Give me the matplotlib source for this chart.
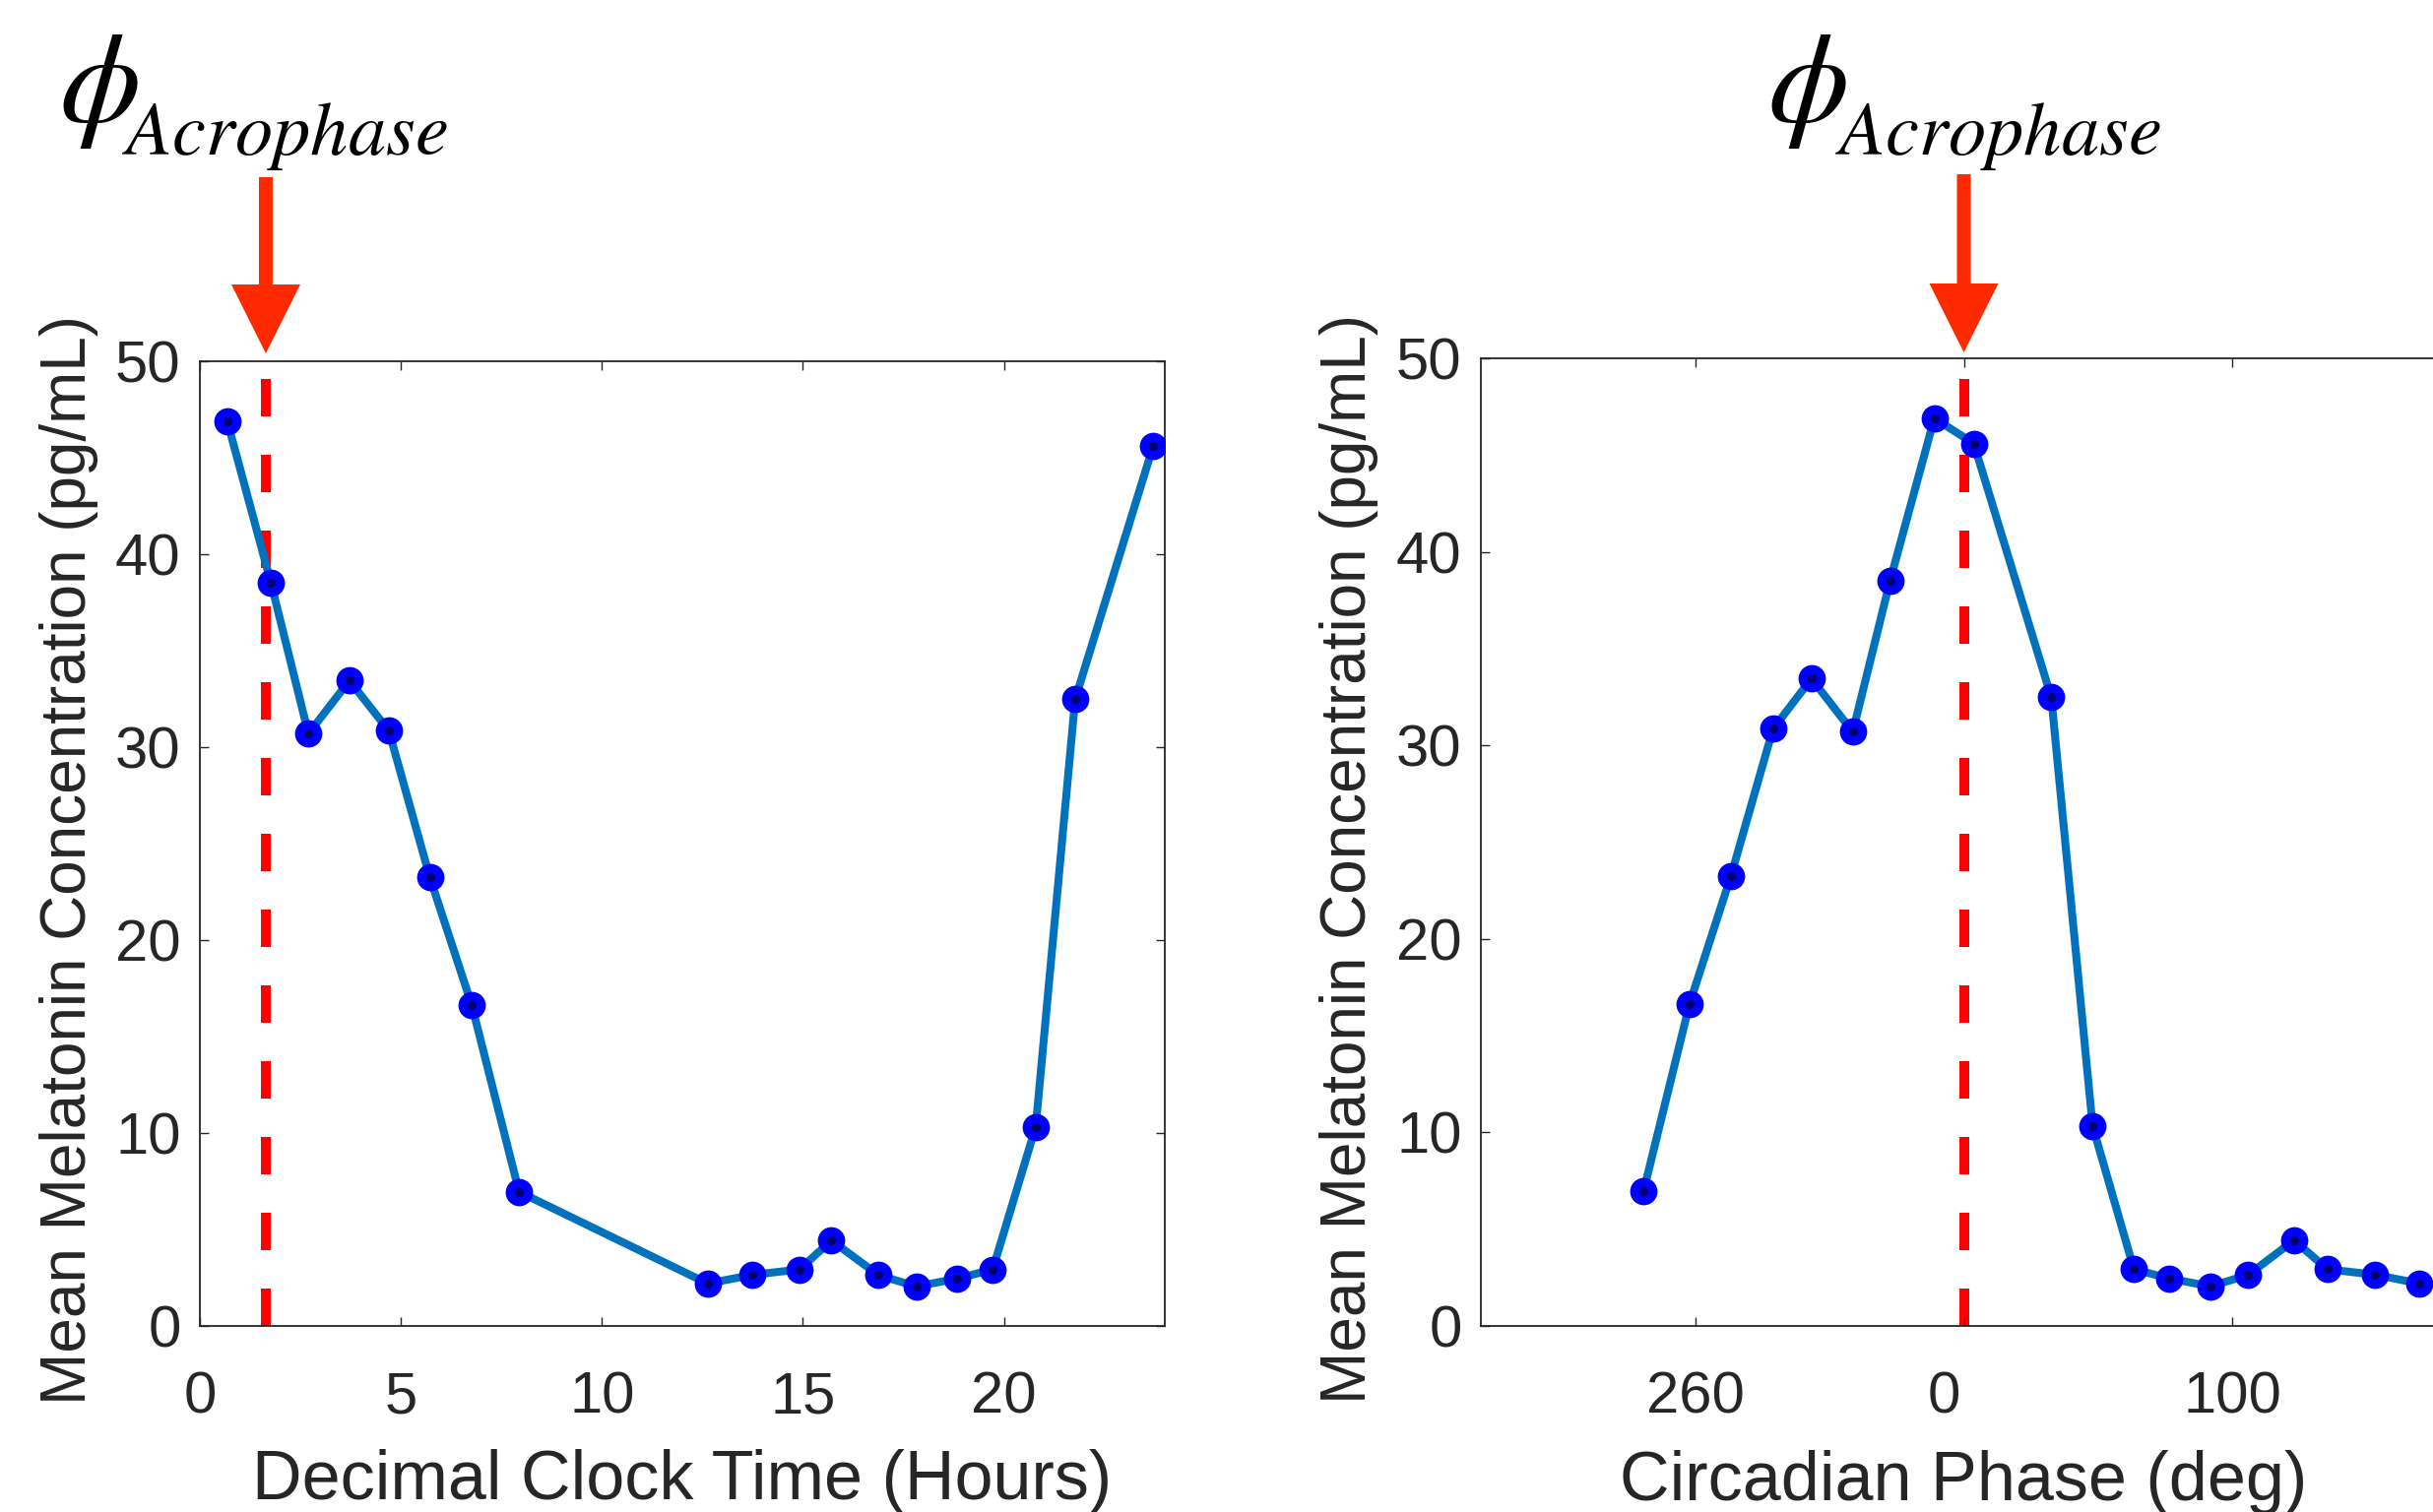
import matplotlib
matplotlib.use('Agg')
import matplotlib.pyplot as plt
from matplotlib.patches import FancyArrow
from matplotlib.transforms import ScaledTranslation

# Số liệu
clock_hours = [0.68, 1.77, 2.70, 3.72, 4.70, 5.72, 6.76, 7.94, 12.63, 13.75,
               14.91, 15.71, 16.88, 17.82, 18.83, 19.72, 20.79, 21.77, 23.71]
melatonin = [46.9, 38.5, 30.7, 33.45, 30.85, 23.25, 16.65, 6.95, 2.2, 2.65,
             2.93, 4.43, 2.63, 2.05, 2.45, 2.93, 10.33, 32.48, 45.6]
phase_deg = [-11.0, -27.5, -41.4, -56.8, -71.1, -86.8, -102.2, -119.4, 169.6, 153.1,
             135.5, 123.1, 105.9, 91.9, 76.6, 63.4, 48.0, 32.6, 3.7]
acrophase_hour = 1.64
acrophase_deg = 0.0

clock_ticks = [0, 5, 10, 15, 20]
phase_ticks = [-100, 0, 100]
phase_tick_labels = ['260', '0', '100']
conc_ticks = [0, 10, 20, 30, 40, 50]

W, H = 2471, 1536
DARK = '#262626'
LINE_BLUE = '#0072BD'
ARROW_RED = '#FF2A00'

plt.rcParams['font.family'] = ['Liberation Sans', 'DejaVu Sans']
plt.rcParams['mathtext.fontset'] = 'stix'


def px_rect(l, t, r, b):
    return [l / W, 1 - b / H, (r - l) / W, (b - t) / H]


def draw_panel(ax, x, y, acro_x, xlim, xticks, xlabel):
    ax.plot(x, y, '-', color=LINE_BLUE, lw=5.8, zorder=2)
    ax.plot(x, y, 'o', ms=20, mfc='#0000FF', mec='#0000FF', mew=0, zorder=3)
    ax.plot(x, y, 'o', ms=6.5, mfc='#00006E', mec='#00006E', mew=0, zorder=4)
    # đường nét đứt tại acrophase
    ax.plot([acro_x, acro_x], [0, 50], color='#FF0000', lw=7.2,
            dashes=(3.8, 3.9), zorder=1)
    ax.set_xlim(*xlim)
    ax.set_ylim(0, 50)
    ax.set_xticks(xticks)
    ax.set_yticks(conc_ticks)
    ax.tick_params(direction='in', length=6.5, width=1.0, top=True, right=True,
                   labelsize=43, colors=DARK)
    ax.tick_params(axis='x', pad=33)
    ax.tick_params(axis='y', pad=14)
    for s in ax.spines.values():
        s.set_linewidth(1.3)
        s.set_color(DARK)
    ax.set_xlabel(xlabel, fontsize=50.5, color=DARK, va='baseline')
    ax.xaxis.set_label_coords(0.5, -0.1796)
    ax.set_ylabel('Mean Melatonin Concentration (pg/mL)', fontsize=46,
                  color=DARK, va='baseline')
    ax.yaxis.set_label_coords(-0.118, 0.483)


def draw_acro_arrow(fig, ax, acro_x, top_px, tip_gap_px):
    # mũi tên đỏ chỉ xuống vị trí acrophase
    tip = ax.transData.transform((acro_x, 50))
    x_in = tip[0] / fig.dpi
    tip_in = (tip[1] + tip_gap_px) / fig.dpi
    top_in = (H - top_px) / fig.dpi
    arr = FancyArrow(x_in, top_in, 0, tip_in - top_in, width=0.14,
                     head_width=0.70, head_length=0.70,
                     length_includes_head=True, color=ARROW_RED, lw=0,
                     transform=fig.dpi_scale_trans)
    fig.add_artist(arr)


def draw_phi_label(fig, phi_left, sub_left):
    # ký hiệu phi lớn + chỉ số dưới "Acrophase"
    fig.text(phi_left / W, 1 - 153 / H, r'$\phi$', fontsize=95,
             ha='left', va='bottom')
    fig.text(sub_left / W, 1 - 157 / H, r'$Acrophase$', fontsize=55,
             ha='left', va='baseline')


fig = plt.figure(figsize=(W / 100, H / 100), dpi=100)

ax1 = fig.add_axes(px_rect(203, 367, 1183, 1347))
draw_panel(ax1, clock_hours, melatonin, acrophase_hour, (0, 24), clock_ticks,
           'Decimal Clock Time (Hours)')

pairs = sorted(zip(phase_deg, melatonin))
ax2 = fig.add_axes(px_rect(1504, 364, 2485, 1347))
draw_panel(ax2, [p[0] for p in pairs], [p[1] for p in pairs], acrophase_deg,
           (-180, 180), phase_ticks, 'Circadian Phase (deg)')
ax2.set_xticklabels(phase_tick_labels)
ax2.yaxis.set_label_coords(-0.119, 0.483)
zero_label = ax2.get_xticklabels()[1]
zero_label.set_transform(zero_label.get_transform() +
                         ScaledTranslation(-0.2, 0, fig.dpi_scale_trans))

draw_acro_arrow(fig, ax1, acrophase_hour, 180, 8)
draw_acro_arrow(fig, ax2, acrophase_deg, 177, 6)

draw_phi_label(fig, 60, 124)
draw_phi_label(fig, 1795, 1864)

fig.savefig('out.png', dpi=100)
